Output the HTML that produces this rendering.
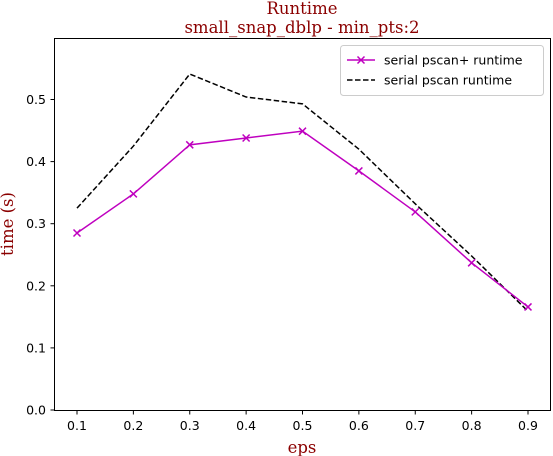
<!DOCTYPE html>
<html><head><meta charset="utf-8"><style>
body{margin:0;background:#fff;}
svg{display:block;}
text{font-family:"DejaVu Sans","Liberation Sans",sans-serif;}
.serif{font-family:"DejaVu Serif","Liberation Serif",serif;fill:#8b0000;}
</style></head><body>
<svg id="chart" width="553" height="456" viewBox="0 0 553 456">
<text class="serif" x="302" y="14" font-size="16.5" text-anchor="middle">Runtime</text>
<text class="serif" x="302" y="33" font-size="16.5" text-anchor="middle">small_snap_dblp - min_pts:2</text>
<text class="serif" x="302" y="453" font-size="16.5" text-anchor="middle">eps</text>
<text class="serif" x="0" y="0" font-size="16.5" text-anchor="middle" transform="translate(13,224) rotate(-90)">time (s)</text>
<g id="axes"></g>
<g id="marks"></g>
<rect x="54.5" y="38.5" width="496" height="372" fill="none" stroke="#000" stroke-width="1"/>
<g>
<rect x="340.5" y="45.5" width="203" height="50" rx="3" fill="#fff" stroke="#ccc"/>
<g>
<line x1="347" y1="60" x2="375" y2="60" stroke="#bf00bf" stroke-width="1.5"/>
<path d="M357.5,56.5L364.5,63.5M357.5,63.5L364.5,56.5" stroke="#bf00bf" stroke-width="1.5"/>
<text x="384" y="64.5" font-size="12.5">serial pscan+ runtime</text></g>
<g>
<line x1="347" y1="80" x2="375" y2="80" stroke="#000" stroke-width="1.5" stroke-dasharray="5.5,2.5"/>
<text x="384" y="84.5" font-size="12.5">serial pscan runtime</text></g>
</g>
</svg>
<script>
const categories=[0.1,0.2,0.3,0.4,0.5,0.6,0.7,0.8,0.9];
const pscanPlus=[0.285,0.348,0.427,0.438,0.449,0.385,0.319,0.237,0.166];
const pscan=[0.325,0.425,0.541,0.504,0.493,0.420,0.332,0.248,0.159];
const yTicks=[0,0.1,0.2,0.3,0.4,0.5];
const xTickLabels=["0.1","0.2","0.3","0.4","0.5","0.6","0.7","0.8","0.9"];
const NS="http://www.w3.org/2000/svg";
function xs(v){return 77+(v-0.1)/0.8*451;}
function ys(v){return 410-v*621;}
const axes=document.getElementById('axes'),marks=document.getElementById('marks');
function mk(tag,attrs,parent){const e=document.createElementNS(NS,tag);for(const k in attrs)e.setAttribute(k,attrs[k]);parent.appendChild(e);return e;}
yTicks.forEach(t=>{const y=ys(t);
const l=mk('line',{x1:50.5,x2:54.5,y1:y,y2:y,stroke:'#000'},axes);


const tx=mk('text',{x:46,y:y+4.5,'font-size':12.5,'text-anchor':'end'},axes);tx.textContent=t.toFixed(1);

});
categories.forEach((c,i)=>{const x=xs(c);
const l=mk('line',{x1:x,x2:x,y1:410.5,y2:414.5,stroke:'#000'},axes);


const tx=mk('text',{x:x,y:430,'font-size':12.5,'text-anchor':'middle'},axes);tx.textContent=xTickLabels[i];

});
const p1=mk('polyline',{points:categories.map((c,i)=>xs(c)+','+ys(pscan[i])).join(' '),fill:'none',stroke:'#000','stroke-width':1.5,'stroke-dasharray':'5.5,2.5'},marks);


const p2=mk('polyline',{points:categories.map((c,i)=>xs(c)+','+ys(pscanPlus[i])).join(' '),fill:'none',stroke:'#bf00bf','stroke-width':1.5},marks);


categories.forEach((c,i)=>{const x=xs(c),y=ys(pscanPlus[i]);
const m=mk('path',{d:`M${x-3.5},${y-3.5}L${x+3.5},${y+3.5}M${x-3.5},${y+3.5}L${x+3.5},${y-3.5}`,stroke:'#bf00bf','stroke-width':1.5},marks);

});
</script>
</body></html>
